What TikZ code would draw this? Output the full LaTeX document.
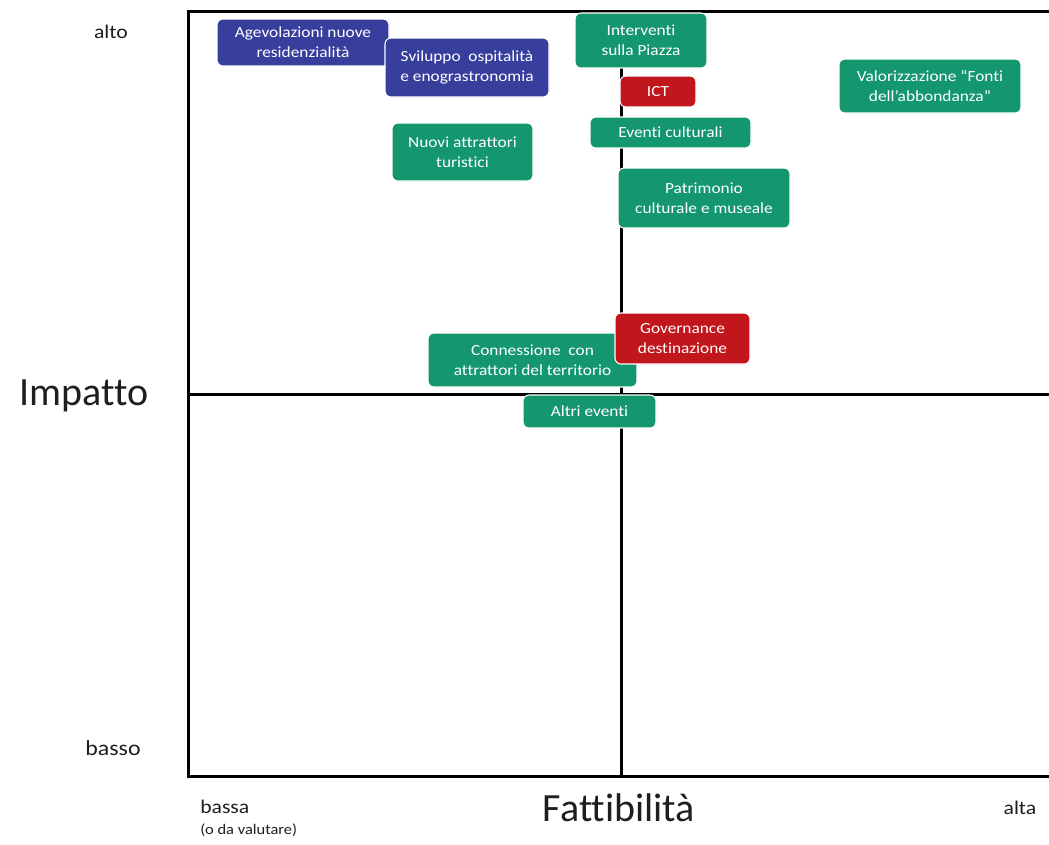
\documentclass[tikz,border=0pt]{standalone}
\usepackage{fontspec}
\setmainfont{Carlito}[FakeStretch=1.12, Ligatures=NoCommon]
\newfontfamily\titlefont{Carlito}[Ligatures=NoCommon]
\definecolor{verde}{RGB}{20,150,110}
\definecolor{blu}{RGB}{56,62,156}
\definecolor{rosso}{RGB}{192,22,28}
\definecolor{testo}{RGB}{30,30,30}
\tikzset{
  voce/.style={draw=white, line width=0.8pt, rounded corners=4.5pt, text=white,
    align=center, inner sep=0pt, font=\fontsize{11.6}{15}\selectfont},
  asse/.style={line width=2.25pt},
  etichetta/.style={text=testo, inner sep=0pt, font=\fontsize{14.5}{17}\selectfont},
  titolo/.style={text=testo, inner sep=0pt, font=\titlefont\fontsize{30}{34}\selectfont}
}
\begin{document}
\begin{tikzpicture}[x=0.75pt, y=-0.75pt]
				\useasboundingbox (0,0) rectangle (1049,844);
				% Riquadro e assi
				\draw[asse] (1049,11.5) -- (188,11.5) -- (188,776) -- (1049,776);
				\draw[asse] (621,11.5) -- (621,776);
				\draw[asse] (188,394) -- (1049,394);
				
				% Etichette degli assi
				\node[etichetta] (alto) at (111,32) {alto};
				\node[etichetta, font=\fontsize{16}{18}\selectfont] (basso) at (113,748) {basso};
				\node[titolo] (impatto) at (84,396) {Impatto};
				\node[etichetta, anchor=west] (bassa) at (200,807) {bassa};
				\node[etichetta, anchor=west, font=\fontsize{11}{13}\selectfont] (valutare) at (200,830) {(o da valutare)};
				\node[titolo] (fattibilita) at (619,808) {Fattibilità};
				\node[etichetta] (alta) at (1020,808) {alta};
				
				% Interventi
				\node[voce, fill=blu, minimum width=129pt, minimum height=35.25pt] (agev) at (303,42.5) {Agevolazioni nuove\\residenzialità};
				\node[voce, fill=blu, minimum width=123pt, minimum height=44.25pt] (svil) at (467,67.5) {Sviluppo~ ospitalità\\e enograstronomia};
				\node[voce, fill=verde, minimum width=105.75pt, minimum height=43.5pt] (nuovi) at (462.5,152) {Nuovi attrattori\\turistici};
				\node[voce, fill=verde, minimum width=99pt, minimum height=41.25pt] (piazza) at (641,40.5) {Interventi\\sulla Piazza};
				\node[voce, fill=rosso, minimum width=57pt, minimum height=23.25pt] (ict) at (658,91.5) {ICT};
				\node[voce, fill=verde, minimum width=120.75pt, minimum height=23.25pt] (eventi) at (670.5,132.5) {Eventi culturali};
				\node[voce, fill=verde, minimum width=129pt, minimum height=45pt] (patrim) at (704,198) {Patrimonio\\culturale e museale};
				\node[voce, fill=verde, minimum width=136.5pt, minimum height=40.5pt] (fonti) at (930,86) {Valorizzazione “Fonti\\dell’abbondanza”};
				\node[voce, fill=verde, minimum width=156.75pt, minimum height=40.5pt] (conn) at (532.5,360) {Connessione~ con\\attrattori del territorio};
				\node[voce, fill=rosso, minimum width=101.25pt, minimum height=38.25pt] (gov) at (682.5,338.5) {Governance\\destinazione};
				\node[voce, fill=verde, minimum width=99.75pt, minimum height=24.75pt] (altri) at (589.5,411.5) {Altri eventi};
			\end{tikzpicture}
\end{document}
